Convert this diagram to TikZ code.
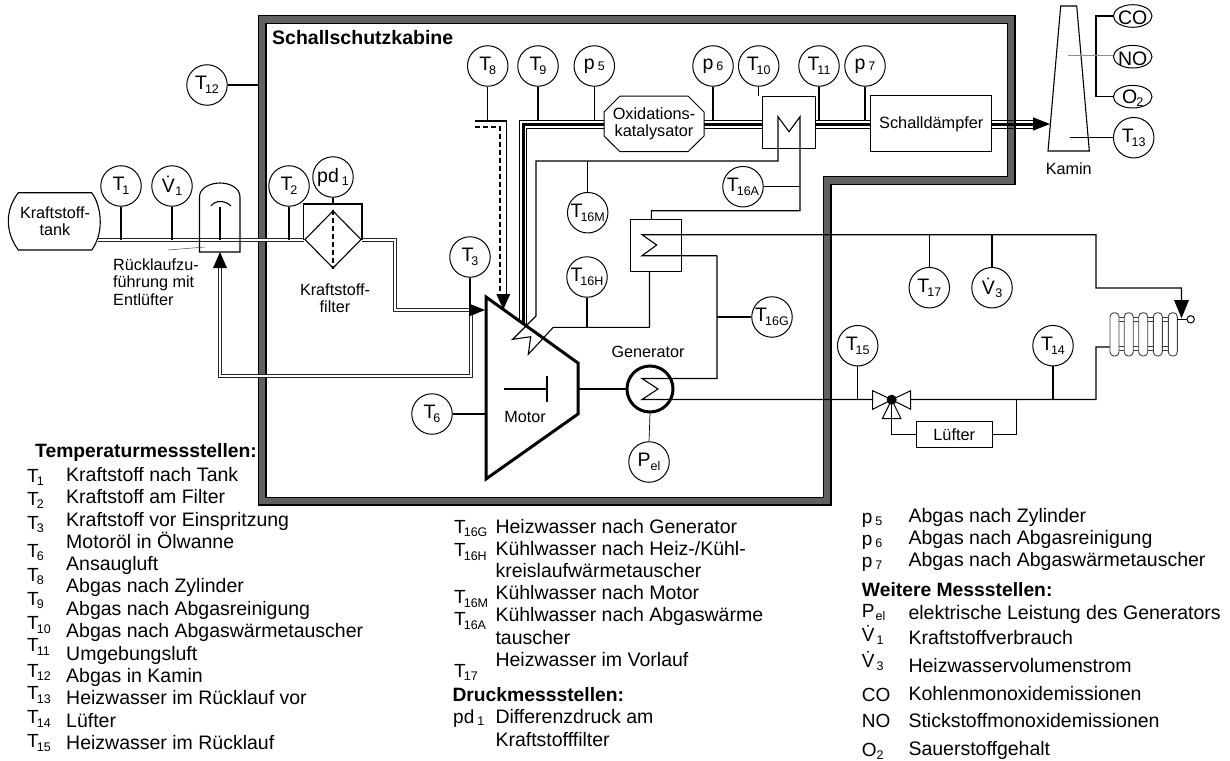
\documentclass[tikz,border=0pt]{standalone}
\usepackage{fontspec}
\setmainfont{Liberation Sans}
\usetikzlibrary{shapes.geometric,arrows.meta}
\newcommand\subf{\fontsize{12.5}{12.5}\selectfont}
\newcommand\mT[1]{T\kern-2pt\raisebox{-3.5pt}{\subf #1}}
\newcommand\mPr[1]{p\kern3pt\raisebox{-1.5pt}{\subf #1}}
\newcommand\mV[1]{\.{V}\kern0.5pt\raisebox{-3pt}{\subf #1}}
\tikzset{
  conn/.style={line width=1.1pt,draw=black},
  thinc/.style={line width=0.7pt,draw=black},
  fuel/.style={draw=black!85,line width=1.15pt,double=white,double distance=1.9pt,line join=miter},
  gas/.style={line width=1pt,draw=black},
  gasthick/.style={line width=3pt,draw=black},
  meas/.style={circle,draw,fill=white,line width=1pt,minimum size=40.5pt,inner sep=0pt,font=\fontsize{19.5}{19.5}\selectfont},
  gasi/.style={rectangle,minimum width=38.6pt,minimum height=15pt,inner sep=0pt,font=\fontsize{19.5}{19.5}\selectfont},
  gasring/.style={line width=1pt,draw=black},
  box/.style={rectangle,draw,line width=1pt,inner sep=0pt,align=center,font=\fontsize{16.3}{18.5}\selectfont},
  lab/.style={inner sep=0pt,align=center,font=\fontsize{16.2}{17.5}\selectfont},
  lst/.style={anchor=base west,inner sep=0pt,font=\fontsize{19.5}{22}\selectfont},
  lbl/.style={anchor=base west,inner sep=0pt,font=\fontsize{19}{22}\selectfont},
  bld/.style={anchor=base west,inner sep=0pt,font=\fontsize{19.3}{22}\selectfont\bfseries},
  tip/.style={fill=black,draw=none},
}
\begin{document}
\begin{tikzpicture}[x=1pt,y=-1pt]
\useasboundingbox (0,0) rectangle (1230,760);
\fill[white] (0,0) rectangle (1230,760);
% named junction levels
\coordinate (main) at (0,240);
\coordinate (ey1) at (0,120.7);
\coordinate (ey2) at (0,124.6);
\coordinate (ey3) at (0,128.3);
\coordinate (mTL) at (486,297);
\coordinate (mTR) at (578,363);
\coordinate (mBR) at (578,414);
\coordinate (mBL) at (486,479);
% cabin wall
\draw[line width=9pt,draw=black,line join=miter] (262,19.5)--(1011,19.5)--(1011,180.5)--(827,180.5)--(827,501)--(262,501)--cycle;
\draw[line width=6.8pt,draw=black!62,line join=miter] (262,19.5)--(1011,19.5)--(1011,180.5)--(827,180.5)--(827,501)--(262,501)--cycle;
\node[anchor=base west,inner sep=0pt,font=\fontsize{19.5}{20}\selectfont\bfseries] (cab) at (272,45) {Schallschutzkabine};

% nodes: measuring points
\node[meas] (T1) at (121,186) {\mT{1}};
\node[meas] (V1) at (172,186) {\mV{1}};
\node[meas] (T2) at (289,186) {\mT{2}};
\node[meas] (pd) at (333,177) {pd\kern3pt\raisebox{-3pt}{\subf 1}};
\node[meas] (T3) at (470,257) {\mT{3}};
\node[meas] (T6) at (432,414) {\mT{6}};
\node[meas] (T8) at (487.7,66) {\mT{8}};
\node[meas] (T9) at (538,66) {\mT{9}};
\node[meas] (p5) at (594.3,66) {\mPr{5}};
\node[meas] (p6) at (713,66) {\mPr{6}};
\node[meas] (T10) at (758.7,66) {\mT{10}};
\node[meas] (T11) at (819,66) {\mT{11}};
\node[meas] (p7) at (865,66) {\mPr{7}};
\node[meas] (T12) at (207,85) {\mT{12}};
\node[meas] (T13) at (1133.7,137.7) {\mT{13}};
\node[meas] (T14) at (1053,345.7) {\mT{14}};
\node[meas] (T15) at (857.7,345.7) {\mT{15}};
\node[meas] (T17) at (929.3,287.7) {\mT{17}};
\node[meas] (V3) at (992,287.7) {\mV{3}};
\node[meas] (T16M) at (587.7,212.7) {\mT{16M}};
\node[meas] (T16A) at (743,186.7) {\mT{16A}};
\node[meas] (T16H) at (587,277) {\mT{16H}};
\node[meas] (T16G) at (772,317) {\mT{16G}};
\node[meas] (Pel) at (649,462) {P\raisebox{-3.5pt}{\subf el}};
\foreach \y in {16,56.7,96.7}{\draw[gasring] (1132.7,\y) ellipse[x radius=19.3,y radius=11.3];}
\node[gasi] (CO) at (1132.7,17.7) {CO};
\node[gasi] (NO) at (1132.7,58.4) {NO};
\node[gasi] (O2) at (1132.7,98.4) {O\kern-1pt\raisebox{-3pt}{\subf 2}};

% fuel side
\draw[line width=1.1pt] (18.3,192.7)--(91.7,192.7) .. controls (101,205) and (105,232) .. (91.7,250)--(18.3,250) .. controls (5,232) and (5,210) .. (18.3,192.7)--cycle;
\node[lab] (tank) at (55,221) {Kraftstoff-\\tank};
\node[diamond,aspect=1,draw,fill=white,line width=1.1pt,minimum width=56.5pt,minimum height=57.5pt,inner sep=0pt] (filt) at (333,239.5) {};
\coordinate (fuelin) at (469,310);
\coordinate (tankout) at (98,240);
\draw[fuel] (tankout) -- (filt.west |- main);
\draw[fuel] (filt.east |- main) -- (395,240) -- (395,310) -- (fuelin);
\draw[fuel] (471,310) -- (471,376) -- (220,376) -- (220,268);
\fill[tip] (469,303.5)--(485,310)--(469,316.5)--cycle;
\fill[tip] (213,268)--(220,252)--(227,268)--cycle;
\draw[conn] (T1.south) -- (T1.south |- main);
\draw[conn] (V1.south) -- (V1.south |- main);
\draw[conn] (T2.south) -- (T2.south |- main);
\draw[conn] (T3.south) -- (470,310);
\draw[conn] (T12.east) -- (258,85);
\draw[conn] (pd.south) -- (333,204);
\draw[conn] (303.7,239.5)--(303.7,204)--(362,204)--(362,239.5);
\draw[line width=1.5pt,dash pattern=on 5pt off 3pt] (filt.north) -- (filt.south);
% vessel
\draw[conn,line join=miter] (199.5,252)--(199.5,197) .. controls (199.5,188) and (210,183) .. (220,183) .. controls (230,183) and (240,188) .. (240,197)--(240,252)--cycle;
\draw[conn] (211,206) .. controls (215,200) and (225,200) .. (231,206);
\draw[conn] (220,207)--(220,240);
\draw[line width=0.5pt,draw=black!70] (168,250)--(205,247);
\node[lab,align=left,anchor=north west] (rueck) at (113,258.5) {Rücklaufzu-\\führung mit\\Entlüfter};
\node[lab] (kfil) at (335,298) {Kraftstoff-\\filter};

% motor
\draw[line width=3pt,line join=miter] (mTL)--(mTR)--(mBR)--(mBL)--cycle;
\draw[line width=2.2pt] (504,389)--(547,389);
\draw[line width=2.2pt] (547,376)--(547,402);
\node[lab] (mot) at (525,417) {Motor};
\draw[conn] (T6.east) -- (T6.east -| mTL);

% exhaust pipes
\draw[line width=1pt,line join=miter] (620,96)--(688,96)--(704,112)--(704,136)--(688,151.7)--(620,151.7)--(604,136)--(604,112)--cycle;
\node[minimum width=100pt,minimum height=55.7pt,inner sep=0pt,align=center,font=\fontsize{16.3}{17.5}\selectfont] (oxi) at (654,123.8) {Oxidations-\\katalysator};
\node[box,fill=white,minimum width=53pt,minimum height=51.6pt] (hx1) at (789.2,122.5) {};
\node[box,minimum width=120.7pt,minimum height=55.7pt] (sd) at (931.3,123.8) {Schalldämpfer};
\draw[gas] (519.3,321) -- (519.3,120.7) -- (oxi.west |- ey1);
\draw[gasthick] (523,323.5) -- (523,124.6) -- (oxi.west |- ey2);
\draw[gas] (526.7,326) -- (526.7,128.3) -- (oxi.west |- ey3);
\foreach \e/\s in {ey1/gas,ey2/gasthick,ey3/gas}{
  \draw[\s] (oxi.east |- \e) -- (hx1.west |- \e);
  \draw[\s] (hx1.east |- \e) -- (sd.west |- \e);
  \draw[\s] (sd.east |- \e) -- (1033,0 |- \e);
}
\fill[tip] (1033,117.3)--(1050,124)--(1033,130.7)--cycle;
\draw[conn] (T8.south) -- (487.7,121);
\draw[conn] (475,121)--(506.7,121)--(506.7,294);
\draw[line width=1.6pt,dash pattern=on 5pt off 3pt] (475,126.7)--(500,126.7)--(500,294);
\fill[tip] (496.3,294)--(503.3,309.5)--(510.3,294)--cycle;
\draw[conn] (T9.south) -- (T9.south |- ey1);
\draw[conn] (p5.south) -- (p5.south |- ey1);
\draw[conn] (p6.south) -- (p6.south |- ey1);
\draw[conn] (T10.south) -- (T10.south |- hx1.north);
\draw[conn] (T11.south) -- (T11.south |- ey1);
\draw[conn] (p7.south) -- (p7.south |- ey1);

% kamin
\draw[line width=1.1pt,line join=miter] (1060.7,6)--(1076.7,6)--(1089.3,151)--(1048,151)--cycle;
\node[lab] (kam) at (1068.7,168.3) {Kamin};
\draw[conn] (1113.4,16) -- (1096,16) -- (1096,96.7) -- (1113.4,96.7);
\draw[line width=0.8pt,draw=black!45] (1068.3,55.7) -- (1113.4,55.7);
\draw[conn] (1070,137.7) -- (T13.west);

% cooling water
\coordinate (zig) at (536,316);
\node[box,minimum width=51.7pt,minimum height=52pt] (hx2) at (656,245) {};
\draw[conn,line join=miter] (zig) -- (536,161) -- (778,161) -- (778,116.7) -- (789,131.7) -- (800,116.7) -- (800,210.7) -- (651.3,210.7) -- (651.3,219);
\draw[conn,line join=miter] (zig) -- (512.7,339.3) -- (530.7,336.7) -- (528.3,354.3) -- (553.3,327.3) -- (649.5,327.3) -- (649.5,271);
\draw[conn] (T16M.north) -- (587.7,161);
\draw[thinc] (T16A.east) -- (800,186.7);
\draw[conn] (T16H.south) -- (587,327.3);
% generator
\node[circle,draw,line width=3pt,minimum size=46pt,inner sep=0pt] (gen) at (650,389) {};
\node[lab] (gent) at (648,352) {Generator};
\draw[line width=2.2pt] (mTR |- gen) -- (gen.west);
\draw[conn,line join=miter] (717,255.7) -- (717,378.5) -- (642,378.5) -- (658,389) -- (642,399.5) -- (1096,399.5) -- (1096,347) -- (1110,347);
\draw[conn] (T16G.west) -- (717,317);
\draw[thinc] (gen.south) -- (Pel.north);
\coordinate (radin) at (1181.5,300);
\draw[conn,line join=miter] (717,255.7) -- (642,255.7) -- (656.7,245) -- (642,234.7) -- (1096,234.7) -- (1096,288) -- (1181.5,288) -- (radin);
\fill[tip] (1174,300)--(1181.5,318.3)--(1189,300)--cycle;
\draw[conn] (T17.north) -- (929.3,234.7);
\draw[conn] (V3.north) -- (992,234.7);
\draw[conn] (T15.south) -- (857.7,399.5);
\draw[conn] (T14.south) -- (1053,399.5);
% valve
\draw[line width=1pt,fill=white,line join=miter] (891.7,399.7)--(872.7,390.7)--(872.7,409.3)--cycle;
\draw[line width=1pt,fill=white,line join=miter] (891.7,399.7)--(910.7,390.7)--(910.7,409.3)--cycle;
\draw[line width=1pt,fill=white,line join=miter] (891.7,399.7)--(882.3,418.7)--(901,418.7)--cycle;
\fill (891.7,399.7) circle[radius=5];
\node[box,minimum width=76.3pt,minimum height=25.6pt] (luef) at (954.2,434.5) {Lüfter};
\draw[conn] (891.7,399.7) -- (891.7,434.5) -- (luef.west);
\draw[conn] (luef.east) -- (1016.3,434.5) -- (1016.3,399.5);
% radiator
\foreach \a in {317.3,321.5,346.7,350}{\draw[line width=0.9pt,draw=black!75] (1110,\a)--(1177.3,\a);}
\foreach \a in {1110,1124.2,1138.7,1153.3,1168.3}{
  \draw[line width=0.9pt,draw=black!75,fill=white,rounded corners=4pt] (\a,312.7) rectangle (\a+9,356);
}
\node[circle,draw,line width=1pt,fill=white,minimum size=7.4pt,inner sep=0pt] (rv) at (1190.7,319.3) {};
\draw[conn] (1177.3,319.3) -- (rv.west);

% left list
\node[bld] (h1) at (35,457) {Temperaturmessstellen:};
\foreach \i/\y/\t in {1/481.5/Kraftstoff nach Tank,2/503.5/Kraftstoff am Filter,3/526/Kraftstoff vor Einspritzung,6/548.5/Motoröl in Ölwanne,8/570.5/Ansaugluft,9/592.5/Abgas nach Zylinder,10/615/Abgas nach Abgasreinigung,11/637.5/Abgas nach Abgaswärmetauscher,12/660/Umgebungsluft,13/682/Abgas in Kamin,14/704.5/Heizwasser im Rücklauf vor,15/727/Lüfter,16/749/Heizwasser im Rücklauf}
  \node[lst] (lt\i) at (66,\y) {\t};
\foreach \i/\y in {1/482,2/505,3/529,6/557,8/581,9/605,10/629.5,11/651.5,12/677,13/699.5,14/723.5,15/747.5}
  \node[lbl] (ll\i) at (27,\y) {\mT{\i}};
% middle list
\foreach \i/\y/\t in {1/533/Heizwasser nach Generator,2/555.5/{Kühlwasser nach Heiz-/Kühl-},3/577/kreislaufwärmetauscher,4/599.5/Kühlwasser nach Motor,5/621.5/Kühlwasser nach Abgaswärme,6/644/tauscher,7/666.5/Heizwasser im Vorlauf,8/723.5/Differenzdruck am,9/746.5/Kraftstofffilter}
  \node[lst] (mt\i) at (495.3,\y) {\t};
\node[lbl] (ml1) at (454,533) {\mT{16G}};
\node[lbl] (ml2) at (454,556.5) {\mT{16H}};
\node[lbl] (ml3) at (454,603.5) {\mT{16M}};
\node[lbl] (ml4) at (454,625.5) {\mT{16A}};
\node[lbl] (ml5) at (454,677) {\mT{17}};
\node[bld] (h2) at (452.3,701.5) {Druckmessstellen:};
\node[lbl] (ml6) at (453,723.5) {pd\kern3pt\raisebox{-2pt}{\subf 1}};
% right list
\foreach \i/\y/\t in {1/522.5/Abgas nach Zylinder,2/544.5/Abgas nach Abgasreinigung,3/566.5/Abgas nach Abgaswärmetauscher,4/619/elektrische Leistung des Generators,5/644.5/Kraftstoffverbrauch,6/672/Heizwasservolumenstrom,7/700.5/Kohlenmonoxidemissionen,8/727/Stickstoffmonoxidemissionen,9/755.5/Sauerstoffgehalt}
  \node[lst] (rt\i) at (908.3,\y) {\t};
\node[lbl] (rl1) at (861.7,523) {p\kern3pt\raisebox{-2pt}{\subf 5}};
\node[lbl] (rl2) at (861.7,545) {p\kern3pt\raisebox{-2pt}{\subf 6}};
\node[lbl] (rl3) at (861.7,567) {p\kern3pt\raisebox{-2pt}{\subf 7}};
\node[bld] (h3) at (861.7,596.5) {Weitere Messstellen:};
\node[lbl] (rl4) at (861.7,617) {P\kern1pt\raisebox{-3pt}{\subf el}};
\node[lbl] (rl5) at (861.7,641) {\.{V}\kern2pt\raisebox{-3pt}{\subf 1}};
\node[lbl] (rl6) at (861.7,667) {\.{V}\kern2pt\raisebox{-3pt}{\subf 3}};
\node[lbl] (rl7) at (861.7,701) {CO};
\node[lbl] (rl8) at (861.7,727.5) {NO};
\node[lbl] (rl9) at (861.7,756) {O\raisebox{-3pt}{\subf 2}};
\end{tikzpicture}
\end{document}
